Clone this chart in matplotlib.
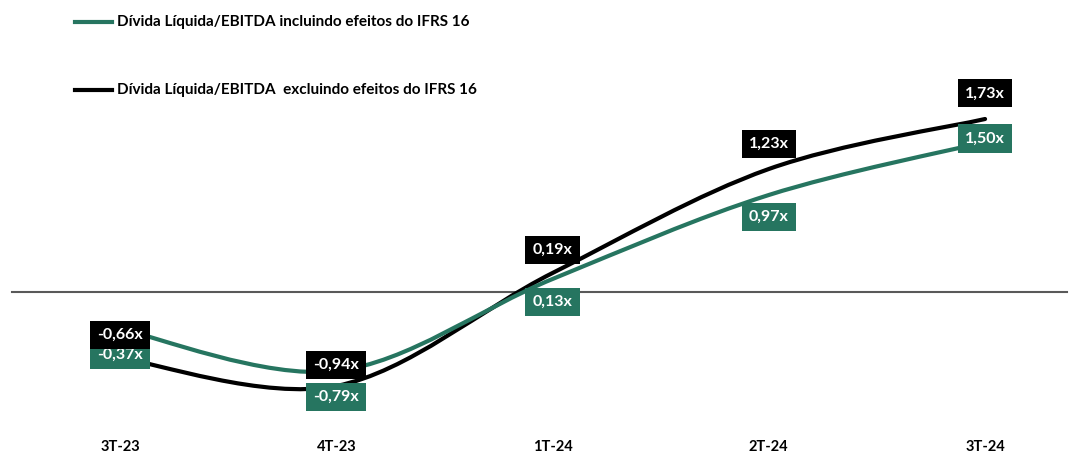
import matplotlib.pyplot as plt
import numpy as np
from matplotlib.path import Path
from matplotlib.patches import PathPatch
from matplotlib.lines import Line2D

# data
quarters = ['3T-23', '4T-23', '1T-24', '2T-24', '3T-24']
incl_ifrs = [-0.37, -0.79, 0.13, 0.97, 1.50]
excl_ifrs = [-0.66, -0.94, 0.19, 1.23, 1.73]
series_names = ['Dívida Líquida/EBITDA incluindo efeitos do IFRS 16',
                'Dívida Líquida/EBITDA  excluindo efeitos do IFRS 16']

green = '#267560'
black = '#000000'
font = ['Lato', 'DejaVu Sans']


def fmt(v):
    return f'{v:.2f}'.replace('.', ',') + 'x'


def smooth_path(xs, ys):
    # excel-like smoothed line, drawn as cubic beziers
    pts = np.column_stack([xs, ys]).astype(float)
    ext = np.vstack([pts[0], pts, pts[-1]])
    verts = [pts[0]]
    codes = [Path.MOVETO]
    for i in range(len(pts) - 1):
        p0, p1, p2, p3 = ext[i], ext[i + 1], ext[i + 2], ext[i + 3]
        c1 = p1 + (p2 - p0) / 6.0
        c2 = p2 - (p3 - p1) / 6.0
        verts += [c1, c2, p2]
        codes += [Path.CURVE4] * 3
    return Path(verts, codes)


fig = plt.figure(figsize=(10.8, 4.54), dpi=100)
ax = fig.add_axes([0, 0, 1, 1])
ax.set_xlim(-0.555, 4.439)
ax.set_ylim(-1.62, 2.92)
ax.axis('off')

x = np.arange(len(quarters))

# zero line
ax.plot([-0.5, 4.38], [0, 0], color='#595959', lw=1.5, zorder=1)

ax.add_patch(PathPatch(smooth_path(x, excl_ifrs), fill=False, ec=black, lw=3,
                       capstyle='round', zorder=2))
ax.add_patch(PathPatch(smooth_path(x, incl_ifrs), fill=False, ec=green, lw=3,
                       capstyle='round', zorder=3))

# data labels (offsets in points)
green_off = [(0, -18.5), (0, -18.5), (0, -16.5), (0, -16), (0, 2.5)]
black_off = [(0, 16.5), (0, 15), (0, 16.5), (0, 18), (0, 18.5)]
for i in range(len(quarters)):
    ax.annotate(fmt(incl_ifrs[i]), (x[i], incl_ifrs[i]), xytext=green_off[i],
                textcoords='offset points', ha='center', va='center',
                color='white', fontsize=11.5, fontweight='bold', family=font,
                bbox=dict(boxstyle='square,pad=0.45', fc=green, ec='none'),
                zorder=5)
    ax.annotate(fmt(excl_ifrs[i]), (x[i], excl_ifrs[i]), xytext=black_off[i],
                textcoords='offset points', ha='center', va='center',
                color='white', fontsize=11.5, fontweight='bold', family=font,
                bbox=dict(boxstyle='square,pad=0.45', fc=black, ec='none'),
                zorder=6)

# category labels
for i, q in enumerate(quarters):
    ax.text(x[i], -1.55, q, ha='center', va='center', fontsize=10.5,
            fontweight='bold', family=font, color='#000000')

# legend
for ypix, col, name in [(22, green, series_names[0]), (90, black, series_names[1])]:
    yf = 1 - ypix / 454
    fig.add_artist(Line2D([75 / 1080, 112 / 1080], [yf, yf], color=col, lw=3,
                          transform=fig.transFigure))
    fig.text(117 / 1080, yf, name, ha='left', va='center', fontsize=11,
             fontweight='bold', family=font)

fig.savefig('out.png', dpi=100)
